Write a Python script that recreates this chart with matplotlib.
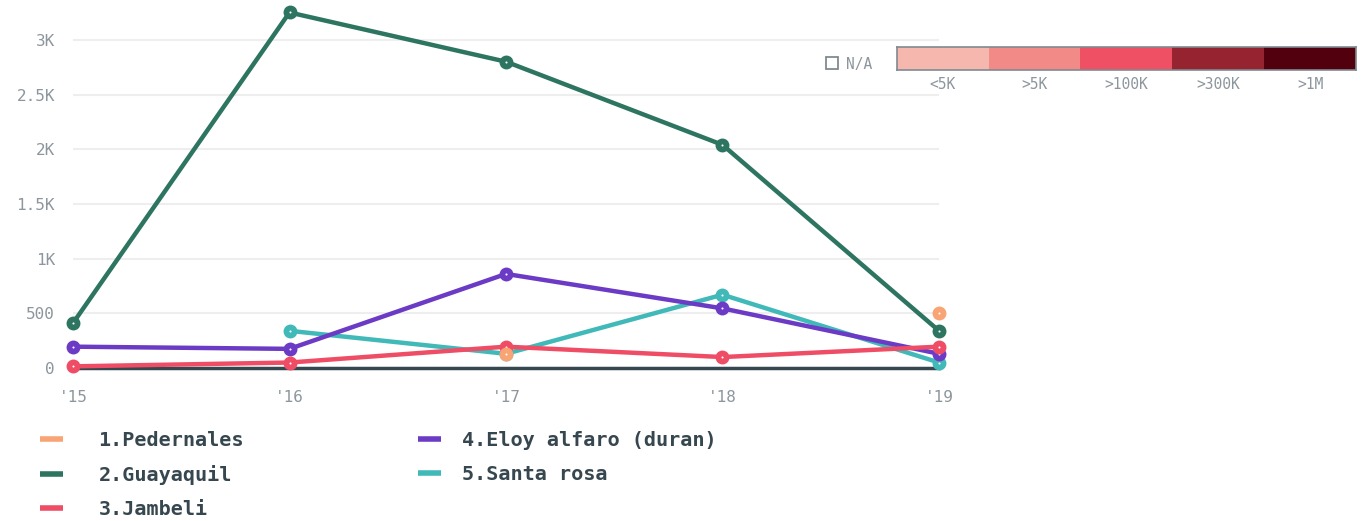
import numpy as np
import matplotlib
matplotlib.use('Agg')
from matplotlib import pyplot as plt
from matplotlib.lines import Line2D
from matplotlib.patches import Rectangle

# data
years = ["'15", "'16", "'17", "'18", "'19"]
nan = np.nan
pedernales = [nan, nan, 130, nan, 500]
guayaquil = [410, 3250, 2800, 2040, 340]
jambeli = [15, 50, 195, 100, 195]
eloy_alfaro = [195, 175, 860, 545, 130]
santa_rosa = [nan, 340, 130, 670, 50]

names = ['1.Pedernales', '2.Guayaquil', '3.Jambeli',
         '4.Eloy alfaro (duran)', '5.Santa rosa']
colors = ['#f9a474', '#2d7560', '#ef4d66', '#6c3bc5', '#41b9b9']

yticks = [0, 500, 1000, 1500, 2000, 2500, 3000]
ytick_labels = ['0', '500', '1K', '1.5K', '2K', '2.5K', '3K']

scale_labels = ['<5K', '>5K', '>100K', '>300K', '>1M']
scale_colors = ['#f5b7ae', '#f28a88', '#ef5064', '#962330', '#52000d']

MONO = 'DejaVu Sans Mono'
GREY = '#8c969c'
DARK = '#37474f'

W, H = 1364, 521
fig = plt.figure(figsize=(W / 100, H / 100), dpi=100)
ax = fig.add_axes([73 / W, 1 - 368 / H, (939 - 73) / W, (368 - 7) / H])

x = np.arange(len(years))
series = [pedernales, guayaquil, jambeli, eloy_alfaro, santa_rosa]
order = [4, 3, 2, 1, 0]
for k in order:
    y = np.array(series[k], dtype=float)
    ax.plot(x, y, color=colors[k], lw=3.2, marker='o', ms=9,
            solid_capstyle='round', clip_on=False, zorder=3 + (5 - k))
    ax.plot(x, y, ls='none', marker='o', ms=1.5, mew=0, color='white',
            clip_on=False, zorder=3.5 + (5 - k))

ax.axhline(0, color=DARK, lw=2.5, zorder=2, clip_on=False)
ax.set_xlim(0, 4)
ax.set_ylim(0, 3300)
ax.set_yticks(yticks)
ax.set_yticklabels(ytick_labels)
ax.set_xticks(x)
ax.set_xticklabels(years)
ax.grid(axis='y', color='#eeeeee', lw=1.5, zorder=0)
ax.tick_params(length=0, labelsize=11.5, labelcolor=GREY)
ax.tick_params(axis='y', pad=13)
ax.tick_params(axis='x', pad=16)
for lab in ax.get_xticklabels() + ax.get_yticklabels():
    lab.set_family(MONO)
for s in ax.spines.values():
    s.set_visible(False)

# legend, one block per column
prop = {'family': MONO, 'weight': 'bold', 'size': 14.5}
handles = [Line2D([0], [0], color=c, lw=4, solid_capstyle='butt')
           for c in colors]
blocks = [(range(0, 3), 40, 1.75), (range(3, 5), 418, 1.05)]
for idx, left, pad in blocks:
    leg = fig.legend([handles[i] for i in idx], [names[i] for i in idx],
                     loc='upper left', bbox_to_anchor=(left / W, 1 - 431 / H),
                     frameon=False, borderpad=0, borderaxespad=0,
                     handlelength=1.15, handletextpad=pad,
                     labelspacing=0.75, prop=prop)
    for t in leg.get_texts():
        t.set_color(DARK)

# colour scale legend
cax = fig.add_axes([897 / W, 1 - 70 / H, (1356 - 897) / W, 23 / H])
cax.imshow(np.arange(5)[None, :], aspect='auto',
           cmap=matplotlib.colors.ListedColormap(scale_colors),
           extent=(0, 5, 0, 1))
cax.set_xticks(np.arange(5) + 0.5)
cax.set_xticklabels(scale_labels)
cax.set_yticks([])
cax.tick_params(length=0, labelsize=10.5, labelcolor=GREY, pad=5)
for lab in cax.get_xticklabels():
    lab.set_family(MONO)
for s in cax.spines.values():
    s.set_color('#7f8a90')
    s.set_linewidth(1.2)

fig.patches.append(Rectangle((826 / W, 1 - 69 / H), 12 / W, 12 / H,
                             transform=fig.transFigure, fill=False,
                             edgecolor='#7f8a90', lw=1.3))
fig.text(846 / W, 1 - 64 / H, 'N/A', family=MONO, size=10.5,
         color=GREY, va='center', ha='left')

fig.savefig('out.png', dpi=100)
